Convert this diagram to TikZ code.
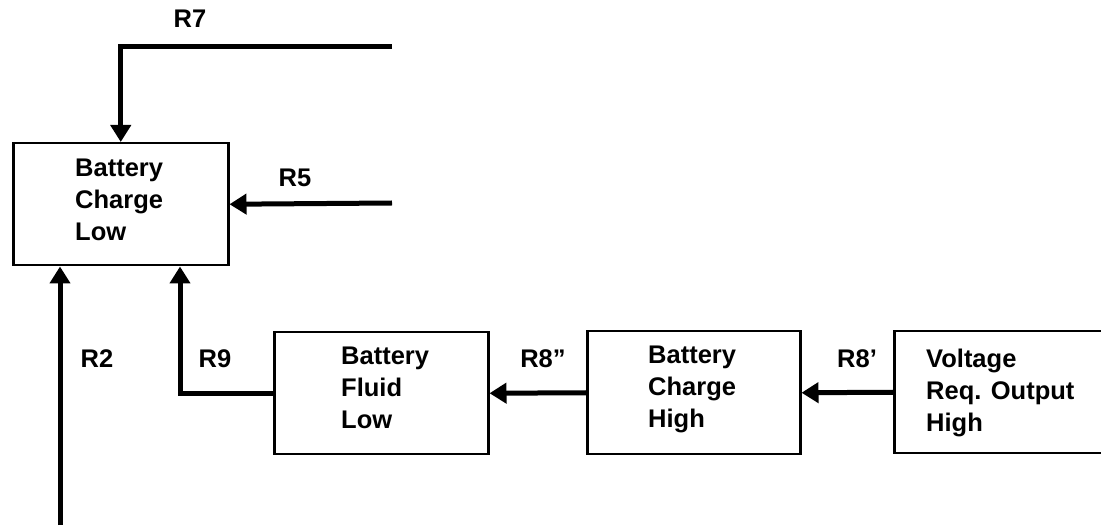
\documentclass[tikz,border=0pt]{standalone}
\usepackage{fontspec}
\setmainfont{Liberation Sans}
\usetikzlibrary{arrows.meta}
\begin{document}
\begin{tikzpicture}[x=1pt,y=-1pt,
  blk/.style={draw,line width=2.5pt,rectangle,inner sep=0pt,anchor=north west},
  txt/.style={anchor=north west,inner sep=0pt,align=left,font=\fontsize{25.5}{32}\selectfont\bfseries},
  lbl/.style={anchor=base,inner sep=0pt,font=\fontsize{25.5}{30}\selectfont\bfseries},
  conn/.style={line width=5pt,-{Triangle[length=17pt,width=20pt]}}]
\useasboundingbox (0,0) rectangle (1101,526);
\clip (0,0) rectangle (1101,526);
% boxes
\node[blk,minimum width=215pt,minimum height=122pt] (A) at (12,142) {};
\node[blk,minimum width=214pt,minimum height=122pt] (F) at (273,331) {};
\node[blk,minimum width=213pt,minimum height=123pt] (H) at (586,330) {};
\node[blk,minimum width=230pt,minimum height=122pt] (V) at (893,330) {};
% box texts
\node[txt] (At) at (75,158.7) {Battery\\Charge\\Low};
\node[txt] (Ft) at (341,346.7) {Battery\\Fluid\\Low};
\node[txt] (Ht) at (648,345.7) {Battery\\Charge\\High};
\node[txt] (Vt) at (926,348.7) {Voltage\\Req. Output\\High};
% free ends
\coordinate (r7) at (392,47);
\coordinate (r5) at (392,203);
\coordinate (r2) at (60,525);
\coordinate (r9x) at (180,0);
% connectors
\draw[conn] (r7) -| (A.north);
\draw[conn] (r5) -- (A.east);
\draw[conn] (r2) -- (r2 |- A.south);
\draw[conn] (F.west) -| (A.south -| r9x);
\draw[conn] (H.west) -- (F.east);
\draw[conn] (V.west) -- (H.east);
% labels
\node[lbl] (L7) at (190,28) {R7};
\node[lbl] (L5) at (295,187) {R5};
\node[lbl] (L2) at (97,368) {R2};
\node[lbl] (L9) at (215,368) {R9};
\node[lbl] (L8a) at (543,368) {R8”};
\node[lbl] (L8b) at (857,368) {R8’};
\end{tikzpicture}
\end{document}
